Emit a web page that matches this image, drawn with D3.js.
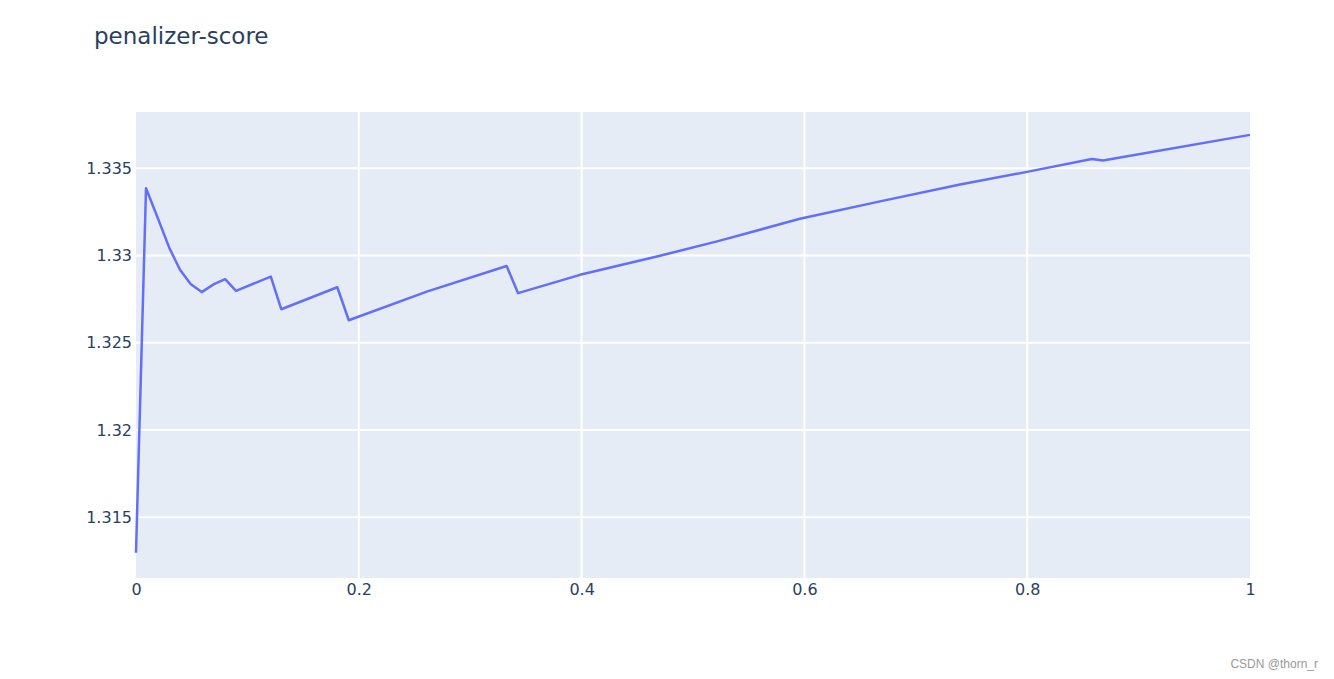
<!DOCTYPE html>
<html>
<head>
<meta charset="utf-8">
<script src="https://cdn.jsdelivr.net/npm/d3@7"></script>
<style>
  body { margin: 0; background: #fff; }
  .axis text { font-family: "DejaVu Sans", Verdana, sans-serif; font-size: 16px; fill: #2a3f5f; }
</style>
</head>
<body>
<script>
// penalizer values and scores
const penalizer = [0, 0.009, 0.019, 0.030, 0.0395, 0.049, 0.059, 0.070, 0.080, 0.0898,
  0.121, 0.1304, 0.1807, 0.191, 0.261, 0.3327, 0.343, 0.3986, 0.4704, 0.5242,
  0.596, 0.6679, 0.7397, 0.7998, 0.858, 0.868, 1];
const score = [1.31297, 1.33385, 1.33223, 1.33042, 1.32918, 1.32837, 1.3279, 1.32836, 1.32864, 1.32797,
  1.32879, 1.32692, 1.32818, 1.32629, 1.32793, 1.3294, 1.32784, 1.32889, 1.32998, 1.33085,
  1.3321, 1.3331, 1.33407, 1.33479, 1.33553, 1.33544, 1.33691];
const xTicks = [0, 0.2, 0.4, 0.6, 0.8, 1];
const yTicks = [1.315, 1.32, 1.325, 1.33, 1.335];

const data = penalizer.map((p, i) => ({ x: p, y: score[i] }));

const chartWidth = 1334;
const chartHeight = 679;
const margin = { top: 112, right: 84, bottom: 101, left: 136 };
const width = chartWidth - margin.left - margin.right;
const height = chartHeight - margin.top - margin.bottom;

const scaleX = d3.scaleLinear()
  .domain([0, 1])
  .range([0, width]);

const scaleY = d3.scaleLinear()
  .domain([1.31152, 1.33822])
  .range([height, 0]);

const svgRoot = d3.select('body')
  .append('svg')
  .attr('width', chartWidth)
  .attr('height', chartHeight);

svgRoot.append('text')
  .attr('x', 94)
  .attr('y', 44)
  .attr('font-family', '"DejaVu Sans", Verdana, sans-serif')
  .attr('font-size', 23)
  .attr('fill', '#2a3f5f')
  .text('penalizer-score');

const svg = svgRoot.append('g')
  .attr('transform', 'translate(' + margin.left + ',' + margin.top + ')');

svg.append('rect')
  .attr('width', width)
  .attr('height', height)
  .attr('fill', '#e5ecf6');

// grid lines
svg.append('g')
  .selectAll('line')
  .data(yTicks)
  .enter()
    .append('line')
    .attr('x1', 0)
    .attr('x2', width)
    .attr('y1', d => scaleY(d))
    .attr('y2', d => scaleY(d))
    .attr('stroke', '#fff')
    .attr('stroke-width', 2);

svg.append('g')
  .selectAll('line')
  .data(xTicks.filter(d => d > 0 && d < 1))
  .enter()
    .append('line')
    .attr('x1', d => scaleX(d))
    .attr('x2', d => scaleX(d))
    .attr('y1', 0)
    .attr('y2', height)
    .attr('stroke', '#fff')
    .attr('stroke-width', 2);

const fmt = d => String(+d.toFixed(3));

const xAxis = d3.axisBottom(scaleX).tickValues(xTicks).tickFormat(fmt).tickSize(0).tickPadding(6);
const yAxis = d3.axisLeft(scaleY).tickValues(yTicks).tickFormat(fmt).tickSize(0).tickPadding(4);

svg.append('g')
  .attr('class', 'x axis')
  .attr('transform', 'translate(0,' + height + ')')
  .call(xAxis)
  .call(g => g.select('.domain').remove());

svg.append('g')
  .attr('class', 'y axis')
  .call(yAxis)
  .call(g => g.select('.domain').remove());

const line = d3.line()
  .x(d => scaleX(d.x))
  .y(d => scaleY(d.y));

svg.append('path')
  .datum(data)
  .attr('d', line)
  .attr('fill', 'none')
  .attr('stroke', '#636efa')
  .attr('stroke-width', 2.5)
  .attr('stroke-linejoin', 'round');

// watermark
svgRoot.append('text')
  .attr('x', 1318)
  .attr('y', 668)
  .attr('text-anchor', 'end')
  .attr('font-family', '"Liberation Sans", Arial, sans-serif')
  .attr('font-size', 12)
  .attr('fill', '#999')
  .text('CSDN @thorn_r');
</script>
</body>
</html>
